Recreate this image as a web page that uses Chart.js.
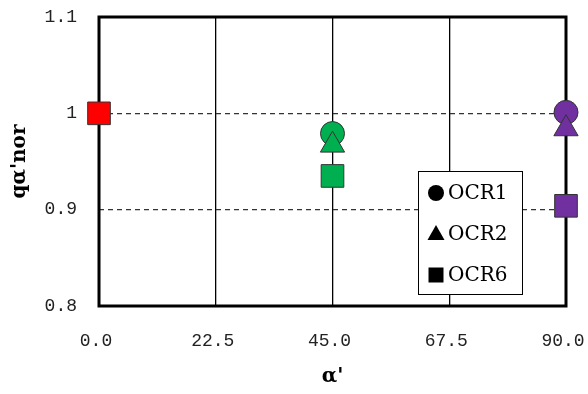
<!DOCTYPE html>
<html>
<head>
<meta charset="utf-8">
<script src="https://cdn.jsdelivr.net/npm/chart.js@4/dist/chart.umd.min.js"></script>
<style>
  html, body { margin: 0; padding: 0; background: #fff; }
  #wrap { width: 588px; height: 394px; position: relative; }
</style>
</head>
<body>
<div id="wrap"><canvas id="c" width="588" height="394"></canvas></div>
<script>
const alphaValues = [0, 45, 90];
const ocr1 = [null, 0.979, 1.001];
const ocr2 = [null, 0.967, 0.984];
const ocr6 = [1.000, 0.935, 0.904];
const pointColors = ['#FF0000', '#00B050', '#7030A0'];
const xTicks = [0, 22.5, 45, 67.5, 90];
const yTicks = [0.8, 0.9, 1.0, 1.1];
const seriesLabels = ['OCR1', 'OCR2', 'OCR6'];
const xTitle = "α'";
const yTitle = "qα'nor";

function pts(vals) {
  return alphaValues.map((x, i) => ({ x: x, y: vals[i] })).filter(p => p.y !== null);
}
function cols(vals) {
  return alphaValues.map((x, i) => pointColors[i]).filter((c, i) => vals[i] !== null);
}

const frame = {
  id: 'frame',
  beforeDatasetsDraw(chart) {
    const { ctx, chartArea: a } = chart;
    ctx.save();
    ctx.strokeStyle = '#000';
    ctx.lineWidth = 3;
    ctx.strokeRect(a.left, a.top, a.right - a.left, a.bottom - a.top);
    ctx.restore();
  }
};

const legendBox = {
  id: 'legendBox',
  afterDatasetsDraw(chart) {
    const { ctx, chartArea: a } = chart;
    const w = 104, h = 123;
    const x = Math.round(a.right - 44 - w), y = Math.round(a.bottom - 12 - h);
    ctx.save();
    ctx.fillStyle = '#fff';
    ctx.fillRect(x, y, w, h);
    ctx.strokeStyle = '#000';
    ctx.lineWidth = 1;
    ctx.strokeRect(x + 0.5, y + 0.5, w, h);
    const styles = ['circle', 'triangle', 'rect'];
    chart.data.datasets.forEach((ds, i) => {
      const cy = y + 22 + i * 41;
      const cx = x + 18;
      ctx.fillStyle = '#000';
      ctx.beginPath();
      if (styles[i] === 'circle') {
        ctx.arc(cx, cy, 8, 0, Math.PI * 2);
      } else if (styles[i] === 'triangle') {
        ctx.moveTo(cx, cy - 9);
        ctx.lineTo(cx + 8.5, cy + 6);
        ctx.lineTo(cx - 8.5, cy + 6);
        ctx.closePath();
      } else {
        ctx.rect(cx - 7.5, cy - 7.5, 15, 15);
      }
      ctx.fill();
      ctx.font = '20px "DejaVu Serif"';
      ctx.textBaseline = 'middle';
      ctx.textAlign = 'left';
      ctx.fillText(ds.label, x + 30, cy + 1);
    });
    ctx.restore();
  }
};

new Chart(document.getElementById('c'), {
  type: 'scatter',
  data: {
    datasets: [
      { label: seriesLabels[0], data: pts(ocr1), pointStyle: 'circle', pointRadius: 12, pointHoverRadius: 12,
        pointBackgroundColor: cols(ocr1), pointBorderColor: '#333', pointBorderWidth: 1, order: 3, showLine: false, clip: false },
      { label: seriesLabels[1], data: pts(ocr2), pointStyle: 'triangle', pointRadius: 14, pointHoverRadius: 14,
        pointBackgroundColor: cols(ocr2), pointBorderColor: '#333', pointBorderWidth: 1, order: 2, showLine: false, clip: false },
      { label: seriesLabels[2], data: pts(ocr6), pointStyle: 'rect', pointRadius: 16, pointHoverRadius: 16,
        pointBackgroundColor: cols(ocr6), pointBorderColor: '#333', pointBorderWidth: 1, order: 1, showLine: false, clip: false }
    ]
  },
  options: {
    responsive: false,
    animation: false,
    events: [],
    layout: { padding: 0 },
    plugins: { legend: { display: false }, tooltip: { enabled: false } },
    scales: {
      x: {
        type: 'linear', min: 0, max: 90,
        afterBuildTicks: s => { s.ticks = xTicks.map(v => ({ value: v })); },
        afterFit: s => { s.height = 88; s.paddingLeft = 0; s.paddingRight = 22; },
        border: { display: false },
        grid: { color: c => (c.tick && (c.tick.value === 0 || c.tick.value === 90)) ? 'rgba(0,0,0,0)' : '#000',
                lineWidth: 1.3, drawTicks: false },
        ticks: { callback: v => Number(v).toFixed(1), color: '#222', padding: 24, labelOffset: -3,
                 font: { family: '"Liberation Mono"', size: 18 }, maxRotation: 0 },
        title: { display: true, text: xTitle, color: '#000', padding: { top: 4, bottom: 5 },
                 font: { family: '"DejaVu Serif"', size: 20, weight: 'bold' } }
      },
      y: {
        type: 'linear', min: 0.8, max: 1.1,
        afterBuildTicks: s => { s.ticks = yTicks.map(v => ({ value: v })); },
        afterFit: s => { s.width = 99; s.paddingTop = 15; s.paddingBottom = 0; },
        border: { display: false, dash: [5, 4] },
        grid: { color: c => (c.tick && (Math.abs(c.tick.value - 0.9) < 1e-6 || Math.abs(c.tick.value - 1.0) < 1e-6)) ? '#333' : 'rgba(0,0,0,0)',
                lineWidth: 1.3, drawTicks: false },
        ticks: { callback: v => String(Math.round(v * 10) / 10), color: '#222', padding: 22,
                 font: { family: '"Liberation Mono"', size: 18 } },
        title: { display: true, text: yTitle, color: '#000', padding: { top: 8, bottom: 0 },
                 font: { family: '"DejaVu Serif"', size: 20, weight: 'bold' } }
      }
    }
  },
  plugins: [frame, legendBox]
});
</script>
</body>
</html>
